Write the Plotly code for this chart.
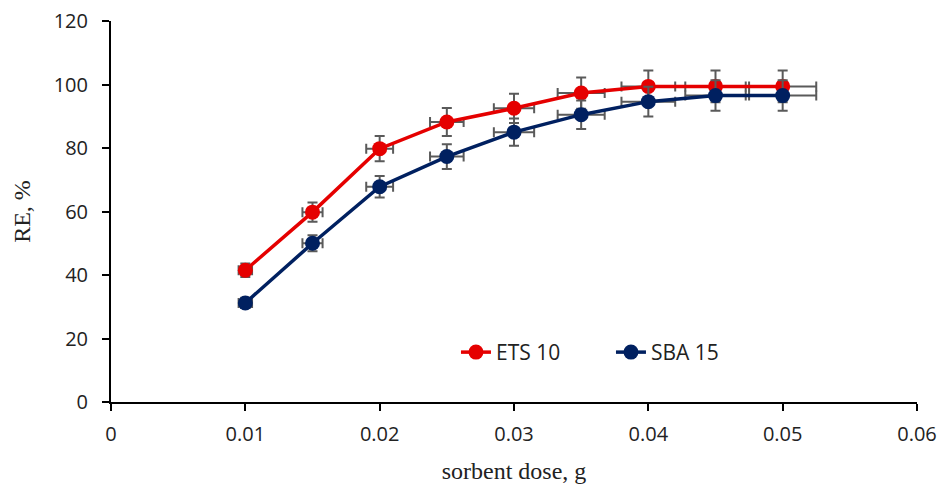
import plotly.graph_objects as go

dose = [0.01, 0.015, 0.02, 0.025, 0.03, 0.035, 0.04, 0.045, 0.05]
dose_err = [0.0005, 0.00075, 0.001, 0.00125, 0.0015, 0.00175, 0.002, 0.00225, 0.0025]

ets10 = [41.5, 59.8, 79.8, 88.2, 92.5, 97.3, 99.4, 99.4, 99.4]
ets10_err = [2.1, 3.0, 4.0, 4.4, 4.6, 4.9, 5.0, 5.0, 5.0]

sba15 = [31.2, 50.0, 67.8, 77.3, 85.0, 90.5, 94.6, 96.5, 96.5]
sba15_err = [1.6, 2.5, 3.4, 3.9, 4.3, 4.5, 4.7, 4.8, 4.8]

x_ticks = [0, 0.01, 0.02, 0.03, 0.04, 0.05, 0.06]
x_tick_labels = ["0", "0.01", "0.02", "0.03", "0.04", "0.05", "0.06"]
y_ticks = [0, 20, 40, 60, 80, 100, 120]

ERR_COLOR = "#5a5a5a"

def make_trace(name, y, yerr, color):
    return go.Scatter(
        x=dose, y=y, name=name, mode="lines+markers",
        line=dict(color=color, width=3.5),
        marker=dict(color=color, size=15, symbol="circle"),
        error_y=dict(type="data", array=yerr, visible=True, color=ERR_COLOR, thickness=2, width=5),
        error_x=dict(type="data", array=dose_err, visible=True, color=ERR_COLOR, thickness=2, width=5),
    )

fig = go.Figure()
fig.add_trace(make_trace("ETS 10", ets10, ets10_err, "#E50000"))
fig.add_trace(make_trace("SBA 15", sba15, sba15_err, "#002060"))

tick_font = dict(family="Open Sans, Lato, sans-serif", size=20, color="#222222")
title_font = dict(family="Liberation Serif, Times New Roman, serif", size=24, color="#222222")

fig.update_layout(
    width=943, height=484,
    margin=dict(l=111, r=26, t=21, b=82),
    paper_bgcolor="white", plot_bgcolor="white",
    showlegend=True,
    legend=dict(
        orientation="h", x=0.428, y=0.13, xanchor="left", yanchor="middle",
        font=dict(family="Open Sans, Lato, sans-serif", size=21, color="#222222"),
        bgcolor="rgba(0,0,0,0)", tracegroupgap=0,
        entrywidth=110, entrywidthmode="pixels",
    ),
    xaxis=dict(
        range=[0, 0.06], tickvals=x_ticks, ticktext=x_tick_labels,
        showgrid=False, zeroline=False, automargin=False,
        showline=True, linecolor="black", linewidth=2,
        ticks="outside", ticklen=7, tickwidth=2, tickcolor="black",
        tickfont=tick_font, ticklabelstandoff=6,
        title=dict(text="sorbent dose, g", font=title_font, standoff=16),
    ),
    yaxis=dict(
        range=[0, 120], tickvals=y_ticks,
        showgrid=False, zeroline=False, automargin=False,
        showline=True, linecolor="black", linewidth=2,
        ticks="outside", ticklen=7, tickwidth=2, tickcolor="black",
        tickfont=tick_font, ticklabelstandoff=10,
        title=dict(text="RE, %", font=title_font, standoff=16),
    ),
)

fig.write_html("out.html")
